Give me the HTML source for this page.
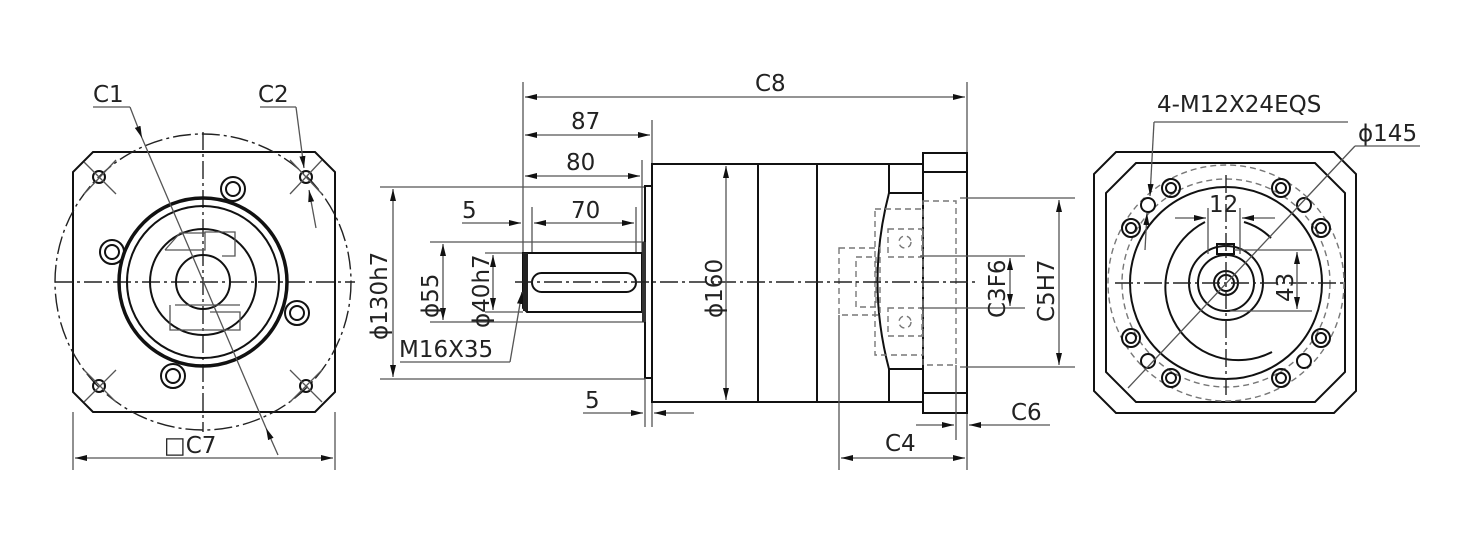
<!DOCTYPE html>
<html><head><meta charset="utf-8"><style>
html,body{margin:0;padding:0;background:#fff}
svg{display:block}
text{font-family:"DejaVu Sans","Liberation Sans",sans-serif;font-size:23px;fill:#222}
.o{stroke:#111;stroke-width:2;fill:none}
.ot{stroke:#111;stroke-width:3.5;fill:none}
.d{stroke:#555;stroke-width:1.3;fill:none}
.c{stroke:#222;stroke-width:1.4;fill:none;stroke-dasharray:18 4 3 4}
.h{stroke:#777;stroke-width:1.4;fill:none;stroke-dasharray:6 4}
</style></head><body>
<svg width="1468" height="540" viewBox="0 0 1468 540" xmlns="http://www.w3.org/2000/svg">
<defs>
<marker id="a" viewBox="0 0 12 6" refX="12" refY="3" markerWidth="12" markerHeight="6" orient="auto-start-reverse" markerUnits="userSpaceOnUse"><path d="M0,0 L12,3 L0,6z" fill="#111"/></marker>
</defs>

<!-- LEFT VIEW -->
<path class="o" d="M93,152 H315 L335,172 V392 L315,412 H93 L73,392 V172 Z"/>
<circle class="c" cx="203" cy="282" r="148"/>
<line class="c" x1="55" y1="282" x2="355" y2="282"/>
<line class="c" x1="203" y1="132" x2="203" y2="432"/>
<g class="o" stroke-width="1.8">
<circle cx="99" cy="177" r="6"/><circle cx="306" cy="177" r="6"/><circle cx="99" cy="386" r="6"/><circle cx="306" cy="386" r="6"/>
</g>
<g class="d" stroke="#333">
<line x1="84" y1="162" x2="116" y2="194"/><line x1="116" y1="160" x2="84" y2="194"/>
<line x1="290" y1="160" x2="322" y2="194"/><line x1="322" y1="160" x2="290" y2="194"/>
<line x1="84" y1="370" x2="116" y2="402"/><line x1="116" y1="370" x2="84" y2="402"/>
<line x1="290" y1="370" x2="322" y2="402"/><line x1="322" y1="370" x2="290" y2="402"/>
</g>
<circle class="ot" cx="203" cy="282" r="84"/>
<circle class="o" cx="203" cy="282" r="76"/>
<circle class="o" cx="203" cy="282" r="53"/>
<circle class="o" cx="203" cy="282" r="27"/>
<g class="o" stroke-width="2.5">
<circle cx="233" cy="189" r="12"/><circle cx="233" cy="189" r="7"/>
<circle cx="112" cy="252" r="12"/><circle cx="112" cy="252" r="7"/>
<circle cx="297" cy="313" r="12"/><circle cx="297" cy="313" r="7"/>
<circle cx="173" cy="376" r="12"/><circle cx="173" cy="376" r="7"/>
</g>
<g class="d" stroke="#555">
<path d="M165,250 H205 V232 H235 V256 H222 M165,250 L180,233 H205"/>
<path d="M170,305 V330 H240 V312 H210 M175,305 H240"/>
</g>
<line class="d" x1="73" y1="412" x2="73" y2="470"/>
<line class="d" x1="335" y1="412" x2="335" y2="470"/>
<line class="d" x1="75" y1="458" x2="333" y2="458" marker-start="url(#a)" marker-end="url(#a)"/>
<text x="164" y="453">□C7</text>
<text x="93" y="102">C1</text>
<line class="d" x1="93" y1="107" x2="130" y2="107"/>
<line class="d" x1="130" y1="107" x2="142" y2="138" marker-end="url(#a)"/>
<line class="d" x1="142" y1="138" x2="266" y2="428"/>
<line class="d" x1="278" y1="455" x2="266" y2="428" marker-end="url(#a)"/>
<text x="258" y="102">C2</text>
<line class="d" x1="260" y1="107" x2="296" y2="107"/>
<line class="d" x1="296" y1="107" x2="304" y2="168" marker-end="url(#a)"/>
<line class="d" x1="316" y1="228" x2="309" y2="190" marker-end="url(#a)"/>

<!-- MIDDLE VIEW -->
<line class="d" x1="523" y1="82" x2="523" y2="300"/>
<line class="d" x1="967" y1="82" x2="967" y2="470"/>
<line class="d" x1="525" y1="97" x2="965" y2="97" marker-start="url(#a)" marker-end="url(#a)"/>
<text x="755" y="91">C8</text>
<line class="d" x1="652" y1="120" x2="652" y2="164"/>
<line class="d" x1="525" y1="135" x2="650" y2="135" marker-start="url(#a)" marker-end="url(#a)"/>
<text x="571" y="129">87</text>
<line class="d" x1="642" y1="160" x2="642" y2="253"/>
<line class="d" x1="525" y1="176" x2="640" y2="176" marker-start="url(#a)" marker-end="url(#a)"/>
<text x="566" y="170">80</text>
<line class="d" x1="380" y1="187" x2="645" y2="187"/>
<line class="d" x1="380" y1="379" x2="645" y2="379"/>
<line class="d" x1="393" y1="189" x2="393" y2="377" marker-start="url(#a)" marker-end="url(#a)"/>
<text transform="translate(387,340) rotate(-90)">ϕ130h7</text>
<line class="d" x1="532" y1="207" x2="532" y2="253"/>
<line class="d" x1="636" y1="207" x2="636" y2="253"/>
<line class="d" x1="462" y1="223" x2="521" y2="223" marker-end="url(#a)"/>
<line class="d" x1="534" y1="223" x2="634" y2="223" marker-start="url(#a)" marker-end="url(#a)"/>
<text x="462" y="218">5</text>
<text x="571" y="218">70</text>
<line class="d" x1="430" y1="242" x2="645" y2="242"/>
<line class="d" x1="430" y1="322" x2="645" y2="322"/>
<line class="d" x1="443" y1="244" x2="443" y2="320" marker-start="url(#a)" marker-end="url(#a)"/>
<text transform="translate(438,318) rotate(-90)">ϕ55</text>
<line class="d" x1="485" y1="312" x2="523" y2="312"/>
<line class="d" x1="485" y1="253" x2="523" y2="253"/>
<line class="d" x1="493" y1="255" x2="493" y2="310" marker-start="url(#a)" marker-end="url(#a)"/>
<text transform="translate(489,328) rotate(-90)">ϕ40h7</text>
<path class="o" d="M523,253 H642 V312 H527 L523,308 Z"/>
<rect x="523" y="253" width="5" height="58" fill="#222"/>
<rect class="o" x="532" y="273" width="104" height="19" rx="9.5"/>
<rect x="645" y="186" width="7" height="192" fill="#fff" stroke="#111" stroke-width="2"/>
<rect x="642" y="242" width="4" height="80" fill="#333"/>
<text x="399" y="357">M16X35</text>
<line class="d" x1="400" y1="362" x2="510" y2="362"/>
<line class="d" x1="510" y1="362" x2="522" y2="292" marker-end="url(#a)"/>
<line class="d" x1="645" y1="378" x2="645" y2="427"/>
<line class="d" x1="652" y1="402" x2="652" y2="427"/>
<line class="d" x1="583" y1="413" x2="643" y2="413" marker-end="url(#a)"/>
<line class="d" x1="694" y1="413" x2="654" y2="413" marker-end="url(#a)"/>
<text x="585" y="408">5</text>

<rect class="o" x="652" y="164" width="271" height="238"/>
<line class="o" x1="758" y1="164" x2="758" y2="402"/>
<line class="o" x1="817" y1="164" x2="817" y2="402"/>
<line class="o" x1="889" y1="164" x2="889" y2="193"/>
<line class="o" x1="889" y1="369" x2="889" y2="402"/>
<line class="o" x1="889" y1="193" x2="923" y2="193"/>
<line class="o" x1="889" y1="369" x2="923" y2="369"/>
<path class="o" d="M889,193 Q866,282 889,369"/>
<rect class="o" x="923" y="153" width="44" height="260"/>
<line class="o" x1="923" y1="172" x2="967" y2="172"/>
<line class="o" x1="923" y1="393" x2="967" y2="393"/>
<rect class="h" x="923" y="201" width="33" height="164"/>
<rect class="h" x="875" y="209" width="48" height="146"/>
<rect class="h" x="839" y="248" width="41" height="67"/>
<rect class="h" x="856" y="257" width="20" height="50"/>
<rect class="h" x="888" y="229" width="34" height="28"/><circle class="h" cx="905" cy="242" r="6" stroke-dasharray="3 2"/>
<rect class="h" x="888" y="308" width="34" height="28"/><circle class="h" cx="905" cy="322" r="6" stroke-dasharray="3 2"/>
<line class="c" x1="515" y1="282" x2="978" y2="282"/>
<line class="d" x1="726" y1="166" x2="726" y2="400" marker-start="url(#a)" marker-end="url(#a)"/>
<text transform="translate(722,318) rotate(-90)">ϕ160</text>
<line class="d" x1="920" y1="256" x2="1025" y2="256"/>
<line class="d" x1="920" y1="308" x2="1025" y2="308"/>
<line class="d" x1="1010" y1="258" x2="1010" y2="306" marker-start="url(#a)" marker-end="url(#a)"/>
<text transform="translate(1005,318) rotate(-90)">C3F6</text>
<line class="d" x1="960" y1="198" x2="1075" y2="198"/>
<line class="d" x1="960" y1="367" x2="1075" y2="367"/>
<line class="d" x1="1059" y1="200" x2="1059" y2="365" marker-start="url(#a)" marker-end="url(#a)"/>
<text transform="translate(1054,322) rotate(-90)">C5H7</text>
<line class="d" x1="839" y1="315" x2="839" y2="470"/>
<line class="d" x1="956" y1="365" x2="956" y2="440"/>
<line class="d" x1="841" y1="458" x2="965" y2="458" marker-start="url(#a)" marker-end="url(#a)"/>
<text x="885" y="451">C4</text>
<line class="d" x1="916" y1="425" x2="954" y2="425" marker-end="url(#a)"/>
<line class="d" x1="1050" y1="425" x2="969" y2="425" marker-end="url(#a)"/>
<text x="1011" y="420">C6</text>

<!-- RIGHT VIEW -->
<path class="o" d="M1116,152 H1334 L1356,174 V391 L1334,413 H1116 L1094,391 V174 Z"/>
<path class="o" d="M1136,163 H1315 L1345,193 V372 L1315,402 H1136 L1106,372 V193 Z"/>
<circle class="h" cx="1226" cy="283" r="118" stroke="#333" stroke-dasharray="20 5"/>
<circle class="o" cx="1226" cy="283" r="96" stroke-width="2.5"/>
<circle class="h" cx="1226" cy="283" r="104" stroke="#333" stroke-dasharray="20 5"/>
<path class="o" stroke-width="2.5" d="M1205,222 A64,64 0 1 0 1272,352"/>
<path class="o" stroke-width="2.5" d="M1244,222 A64,64 0 0 1 1271,238"/>
<circle class="o" cx="1226" cy="283" r="37"/>
<circle class="o" cx="1226" cy="283" r="28" stroke-width="3.5"/>
<circle class="o" cx="1226" cy="283" r="12"/>
<circle class="o" cx="1226" cy="283" r="8" stroke-width="1.2"/>
<rect class="o" x="1217" y="244" width="17" height="10" stroke-width="1.5"/>
<line class="c" x1="1115" y1="283" x2="1345" y2="283"/>
<line class="c" x1="1226" y1="175" x2="1226" y2="395"/>
<g class="o" stroke-width="2">
<circle cx="1171" cy="188" r="9"/><circle cx="1281" cy="188" r="9"/><circle cx="1171" cy="378" r="9"/><circle cx="1281" cy="378" r="9"/>
<circle cx="1131" cy="228" r="9"/><circle cx="1321" cy="228" r="9"/><circle cx="1131" cy="338" r="9"/><circle cx="1321" cy="338" r="9"/>
</g>
<g class="o" stroke-width="1.2">
<circle cx="1171" cy="188" r="5"/><circle cx="1281" cy="188" r="5"/><circle cx="1171" cy="378" r="5"/><circle cx="1281" cy="378" r="5"/>
<circle cx="1131" cy="228" r="5"/><circle cx="1321" cy="228" r="5"/><circle cx="1131" cy="338" r="5"/><circle cx="1321" cy="338" r="5"/>
<circle cx="1148" cy="205" r="7"/><circle cx="1304" cy="205" r="7"/><circle cx="1148" cy="361" r="7"/><circle cx="1304" cy="361" r="7"/>
</g>
<line class="d" x1="1208" y1="208" x2="1208" y2="254"/>
<line class="d" x1="1240" y1="208" x2="1240" y2="254"/>
<line class="d" x1="1175" y1="218" x2="1206" y2="218" marker-end="url(#a)"/>
<line class="d" x1="1275" y1="218" x2="1242" y2="218" marker-end="url(#a)"/>
<text x="1209" y="212">12</text>
<line class="d" x1="1234" y1="250" x2="1312" y2="250"/>
<line class="d" x1="1230" y1="311" x2="1312" y2="311"/>
<line class="d" x1="1297" y1="252" x2="1297" y2="309" marker-start="url(#a)" marker-end="url(#a)"/>
<text transform="translate(1293,302) rotate(-90)">43</text>
<text x="1157" y="112">4-M12X24EQS</text>
<line class="d" x1="1154" y1="122" x2="1348" y2="122"/>
<line class="d" x1="1154" y1="122" x2="1150" y2="196" marker-end="url(#a)"/>
<line class="d" x1="1145" y1="250" x2="1147" y2="213" marker-end="url(#a)"/>
<text x="1358" y="141">ϕ145</text>
<line class="d" x1="1355" y1="146" x2="1420" y2="146"/>
<line class="d" x1="1355" y1="146" x2="1128" y2="388"/>
</svg>
</body></html>
